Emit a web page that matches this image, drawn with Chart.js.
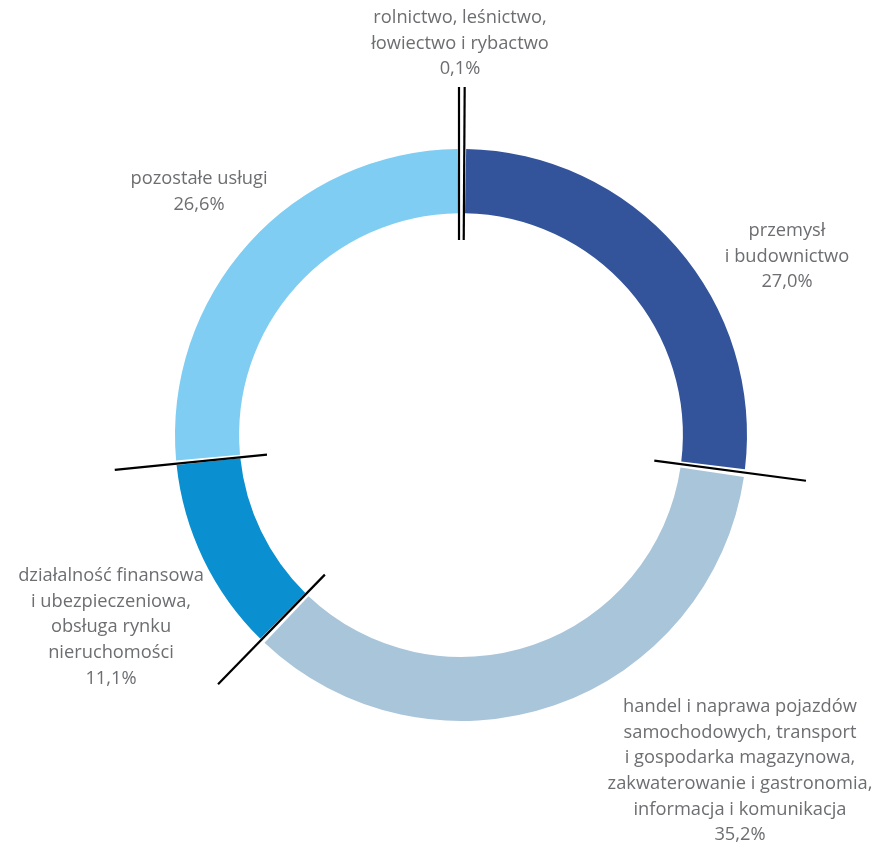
<!DOCTYPE html>
<html>
<head>
<meta charset="utf-8">
<script src="https://cdn.jsdelivr.net/npm/chart.js@4/dist/chart.umd.min.js"></script>
<style>
  html, body { margin: 0; padding: 0; background: #fff; }
  #wrap { width: 880px; height: 847px; }
</style>
</head>
<body>
<div id="wrap"><canvas id="chart"></canvas></div>
<script>
// sectors, clockwise from the top
const sectors = [
  ["rolnictwo, leśnictwo,", "łowiectwo i rybactwo"],
  ["przemysł", "i budownictwo"],
  ["handel i naprawa pojazdów", "samochodowych, transport", "i gospodarka magazynowa,", "zakwaterowanie i gastronomia,", "informacja i komunikacja"],
  ["działalność finansowa", "i ubezpieczeniowa,", "obsługa rynku", "nieruchomości"],
  ["pozostałe usługi"],
];
const shares = [0.1, 27.0, 35.2, 11.1, 26.6];
const colors = ["#ffffff", "#33549b", "#a9c5da", "#0a8fd0", "#7fcdf2"];

// where each label block is centred (x, y of first line)
const labelPos = [
  [460, 18], [787, 231], [740, 707], [111, 576], [199, 179],
];
const LINE_H = 25.6;

const fmt = (v) => v.toFixed(1).replace(".", ",") + "%";

// black separators drawn through the gaps between arcs
const separators = {
  id: "separators",
  afterDatasetsDraw(chart) {
    const meta = chart.getDatasetMeta(0);
    const ctx = chart.ctx;
    const first = meta.data[0];
    const cx = first.x, cy = first.y;
    const r0 = 195, r1 = 348;
    ctx.save();
    ctx.strokeStyle = "#000";
    ctx.lineWidth = 2.2;
    const line = (ang, off) => {
      const dx = Math.cos(ang), dy = Math.sin(ang);
      const px = -dy * off, py = dx * off;
      ctx.beginPath();
      ctx.moveTo(cx + dx * r0 + px, cy + dy * r0 + py);
      ctx.lineTo(cx + dx * r1 + px, cy + dy * r1 + py);
      ctx.stroke();
    };
    meta.data.forEach((arc, i) => {
      if (i === 0) {
        line(arc.startAngle, -2);
        line(arc.endAngle, 1.5);
      } else if (i < meta.data.length - 1) {
        line(arc.endAngle, 0);
      }
    });
    ctx.restore();
  },
};

const labels = {
  id: "labels",
  afterDraw(chart) {
    const ctx = chart.ctx;
    ctx.save();
    ctx.fillStyle = "#6d6e71";
    ctx.font = "18.3px 'Open Sans', sans-serif";
    ctx.textAlign = "center";
    ctx.textBaseline = "middle";
    sectors.forEach((lines, i) => {
      const [x, y] = labelPos[i];
      const all = lines.concat([fmt(shares[i])]);
      all.forEach((t, j) => ctx.fillText(t, x, y + j * LINE_H));
    });
    ctx.restore();
  },
};

new Chart(document.getElementById("chart"), {
  type: "doughnut",
  data: {
    labels: sectors.map((s) => s.join(" ")),
    datasets: [{
      data: shares,
      backgroundColor: colors,
      borderWidth: 0,
      spacing: 7,
    }],
  },
  options: {
    responsive: true,
    maintainAspectRatio: false,
    animation: false,
    cutout: "77.3%",
    layout: { padding: { left: 175, top: 149, right: 133, bottom: 126 } },
    plugins: { legend: { display: false }, tooltip: { enabled: false } },
  },
  plugins: [separators, labels],
});
</script>
</body>
</html>
